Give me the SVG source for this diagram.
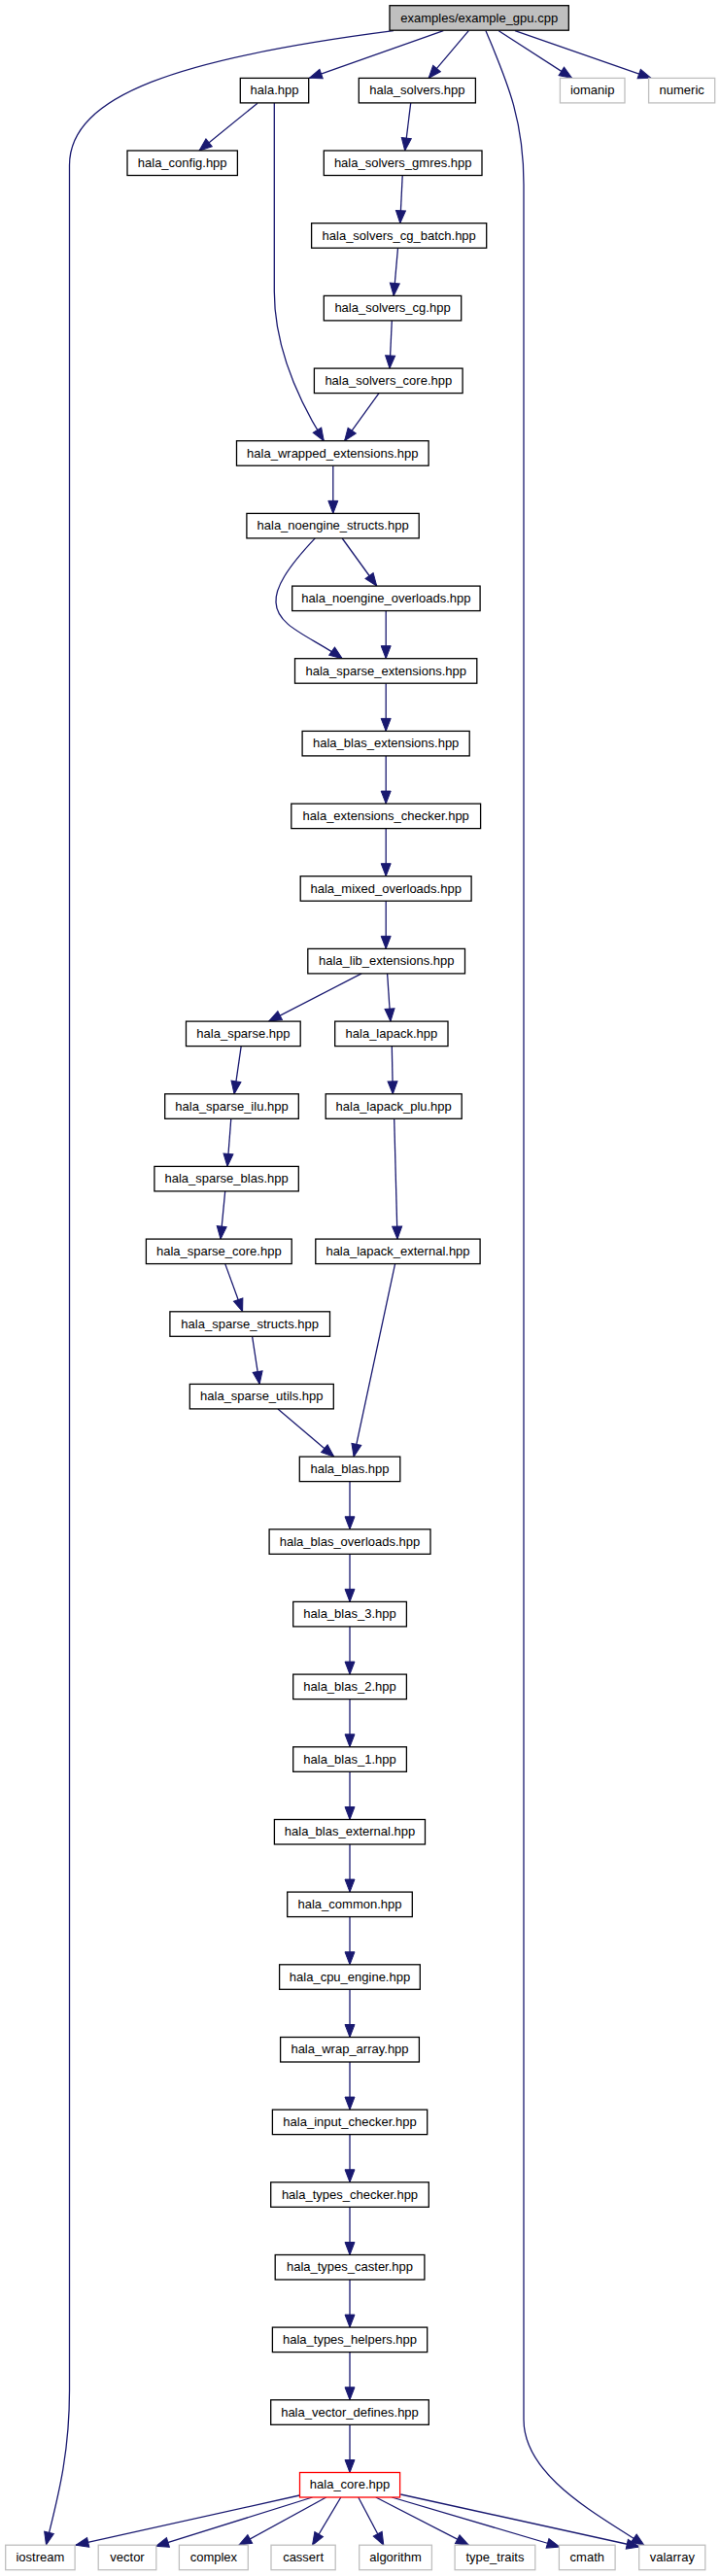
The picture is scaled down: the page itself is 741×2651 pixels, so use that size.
<svg xmlns="http://www.w3.org/2000/svg" width="741" height="2651" viewBox="0 0 741 2651">
<style>
rect{fill:#fff;stroke:#000;stroke-width:1.3}
.x rect{stroke:#bfbfbf}
.r rect{stroke:#ff0000}
.g rect{fill:#bfbfbf}
text{font-family:"Liberation Sans",Arial,Helvetica,sans-serif;font-size:13px;text-anchor:middle;fill:#000}
#edges path{fill:none;stroke:#191970;stroke-width:1.3;marker-end:url(#a)}
</style>
<defs>
<marker id="a" markerUnits="userSpaceOnUse" markerWidth="13" markerHeight="10" refX="13" refY="5" orient="auto" viewBox="0 0 13 10" overflow="visible">
<path d="M0,0L13,5L0,10z" fill="#191970" stroke="#191970" stroke-width="1"/>
</marker>
</defs>
<rect x="0" y="0" width="741" height="2651" style="fill:#fff;stroke:none"/>
<g id="edges">
<path d="M456.3,31.7L318.3,80.4"/>
<path d="M482.3,31.7L441.1,80.4"/>
<path d="M405,31.7C185,60 71.5,98 71.5,170L71.5,2460C71.5,2530 58,2575 47.5,2619"/>
<path d="M500,31.7C520,80 539,120 539,190L539,2490C539,2550 620,2590 663,2619.5"/>
<path d="M513.3,31.7L588.7,80.4"/>
<path d="M530,31.7L670,80.4"/>
<path d="M265,106.2L205,155"/>
<path d="M282.3,106L282.3,300C282.3,350 300,400 333.3,453.7"/>
<path d="M422.7,106L416.7,155"/>
<path d="M414.2,180.7L411.8,229.7"/>
<path d="M409.5,255.3L405.2,304.4"/>
<path d="M403.3,330L401,379"/>
<path d="M390,404.6L354.6,453.7"/>
<path d="M342.8,479.3L342.8,528.4"/>
<path d="M352.2,554L387.7,603"/>
<path d="M324.3,553.9C295,585 283,605 284,620C285,645 320,655 352.2,677.7"/>
<path d="M397.2,628.6L397.2,677.7"/>
<path d="M397.2,703.2L397.2,752.4"/>
<path d="M397.2,777.9L397.2,827.1"/>
<path d="M397.2,852.6L397.2,901.7"/>
<path d="M397.2,927.2L397.2,976.4"/>
<path d="M372.1,1001.9L276.6,1051.1"/>
<path d="M398.6,1001.9L401.9,1051.1"/>
<path d="M248.2,1076.6L241.1,1125.8"/>
<path d="M403.3,1076.6L404.3,1125.8"/>
<path d="M237.8,1151.3L234,1200.4"/>
<path d="M231.7,1225.9L227,1275.1"/>
<path d="M405.7,1151.3L409,1275.1"/>
<path d="M231.7,1300.6L249.6,1349.8"/>
<path d="M259.6,1375.3L267.1,1424.4"/>
<path d="M286,1449.9L343.7,1499.1"/>
<path d="M406.6,1300.6L364.1,1499.1"/>
<path d="M360,1524.6L360,1573.8"/>
<path d="M360,1599.3L360,1648.4"/>
<path d="M360,1673.9L360,1723.1"/>
<path d="M360,1748.6L360,1797.8"/>
<path d="M360,1823.3L360,1872.5"/>
<path d="M360,1898L360,1947.1"/>
<path d="M360,1972.6L360,2021.8"/>
<path d="M360,2047.3L360,2096.5"/>
<path d="M360,2122L360,2171.1"/>
<path d="M360,2196.6L360,2245.8"/>
<path d="M360,2271.3L360,2320.5"/>
<path d="M360,2346L360,2395.1"/>
<path d="M360,2420.6L360,2469.8"/>
<path d="M360,2495.3L360,2544.5"/>
<path d="M308.3,2568L78,2619.2"/>
<path d="M321.5,2570L160.5,2620.3"/>
<path d="M335.7,2570L245.9,2619.2"/>
<path d="M350.8,2570L321.5,2619.2"/>
<path d="M368.8,2570L394.8,2619.2"/>
<path d="M386.8,2570L482.3,2619.2"/>
<path d="M403.3,2570L576,2621"/>
<path d="M412.3,2567L658,2621"/>
</g>
<g id="n_example_gpu" class="g"><rect x="401" y="5.7" width="184.3" height="25.5"/><text x="493.2" y="22.6">examples/example_gpu.cpp</text></g>
<g id="n_hala"><rect x="247.3" y="80.4" width="70.4" height="25.5"/><text x="282.5" y="97.3">hala.hpp</text></g>
<g id="n_hala_solvers"><rect x="369.3" y="80.4" width="120.1" height="25.5"/><text x="429.4" y="97.3">hala_solvers.hpp</text></g>
<g id="n_iomanip" class="x"><rect x="576.4" y="80.4" width="66.6" height="25.5"/><text x="609.7" y="97.3">iomanip</text></g>
<g id="n_numeric" class="x"><rect x="667.6" y="80.4" width="68.1" height="25.5"/><text x="701.7" y="97.3">numeric</text></g>
<g id="n_hala_config"><rect x="131" y="155" width="113.4" height="25.5"/><text x="187.7" y="171.9">hala_config.hpp</text></g>
<g id="n_gmres"><rect x="333.3" y="155" width="162.7" height="25.5"/><text x="414.7" y="171.9">hala_solvers_gmres.hpp</text></g>
<g id="n_cg_batch"><rect x="320.6" y="229.7" width="180.1" height="25.5"/><text x="410.7" y="246.6">hala_solvers_cg_batch.hpp</text></g>
<g id="n_cg"><rect x="333.3" y="304.4" width="141.4" height="25.5"/><text x="404" y="321.3">hala_solvers_cg.hpp</text></g>
<g id="n_solvers_core"><rect x="323.4" y="379.1" width="152.7" height="25.5"/><text x="399.8" y="396">hala_solvers_core.hpp</text></g>
<g id="n_wrapped"><rect x="243.5" y="453.7" width="197.6" height="25.5"/><text x="342.3" y="470.6">hala_wrapped_extensions.hpp</text></g>
<g id="n_noengine_structs"><rect x="253.9" y="528.4" width="177.3" height="25.5"/><text x="342.6" y="545.3">hala_noengine_structs.hpp</text></g>
<g id="n_noengine_overloads"><rect x="300.7" y="603.1" width="193.4" height="25.5"/><text x="397.4" y="620">hala_noengine_overloads.hpp</text></g>
<g id="n_sparse_extensions"><rect x="303.5" y="677.7" width="187.3" height="25.5"/><text x="397.2" y="694.6">hala_sparse_extensions.hpp</text></g>
<g id="n_blas_extensions"><rect x="311.1" y="752.4" width="172.1" height="25.5"/><text x="397.2" y="769.3">hala_blas_extensions.hpp</text></g>
<g id="n_extensions_checker"><rect x="299.8" y="827.1" width="194.8" height="25.5"/><text x="397.2" y="844">hala_extensions_checker.hpp</text></g>
<g id="n_mixed_overloads"><rect x="309.2" y="901.7" width="175.9" height="25.5"/><text x="397.2" y="918.6">hala_mixed_overloads.hpp</text></g>
<g id="n_lib_extensions"><rect x="316.8" y="976.4" width="161.7" height="25.5"/><text x="397.7" y="993.3">hala_lib_extensions.hpp</text></g>
<g id="n_sparse"><rect x="191.5" y="1051.1" width="117.7" height="25.5"/><text x="250.4" y="1068">hala_sparse.hpp</text></g>
<g id="n_lapack"><rect x="344.7" y="1051.1" width="116.3" height="25.5"/><text x="402.9" y="1068">hala_lapack.hpp</text></g>
<g id="n_sparse_ilu"><rect x="169.7" y="1125.8" width="137.6" height="25.5"/><text x="238.5" y="1142.7">hala_sparse_ilu.hpp</text></g>
<g id="n_lapack_plu"><rect x="335.2" y="1125.8" width="140" height="25.5"/><text x="405.2" y="1142.7">hala_lapack_plu.hpp</text></g>
<g id="n_sparse_blas"><rect x="158.9" y="1200.4" width="148.4" height="25.5"/><text x="233.1" y="1217.3">hala_sparse_blas.hpp</text></g>
<g id="n_sparse_core"><rect x="150.4" y="1275.1" width="149.8" height="25.5"/><text x="225.3" y="1292">hala_sparse_core.hpp</text></g>
<g id="n_lapack_external"><rect x="324.8" y="1275.1" width="169.3" height="25.5"/><text x="409.5" y="1292">hala_lapack_external.hpp</text></g>
<g id="n_sparse_structs"><rect x="174.9" y="1349.8" width="164.6" height="25.5"/><text x="257.2" y="1366.7">hala_sparse_structs.hpp</text></g>
<g id="n_sparse_utils"><rect x="195.3" y="1424.4" width="148" height="25.5"/><text x="269.3" y="1441.3">hala_sparse_utils.hpp</text></g>
<g id="n_blas"><rect x="308.3" y="1499.1" width="103.5" height="25.5"/><text x="360" y="1516">hala_blas.hpp</text></g>
<g id="n_blas_overloads"><rect x="277.1" y="1573.8" width="165.9" height="25.5"/><text x="360" y="1590.7">hala_blas_overloads.hpp</text></g>
<g id="n_blas_3"><rect x="301.7" y="1648.4" width="116.7" height="25.5"/><text x="360" y="1665.3">hala_blas_3.hpp</text></g>
<g id="n_blas_2"><rect x="301.7" y="1723.1" width="116.7" height="25.5"/><text x="360" y="1740">hala_blas_2.hpp</text></g>
<g id="n_blas_1"><rect x="301.7" y="1797.8" width="116.7" height="25.5"/><text x="360" y="1814.7">hala_blas_1.hpp</text></g>
<g id="n_blas_external"><rect x="282.4" y="1872.5" width="155.1" height="25.5"/><text x="360" y="1889.4">hala_blas_external.hpp</text></g>
<g id="n_common"><rect x="295.7" y="1947.1" width="128.6" height="25.5"/><text x="360" y="1964">hala_common.hpp</text></g>
<g id="n_cpu_engine"><rect x="287.6" y="2021.8" width="144.7" height="25.5"/><text x="360" y="2038.7">hala_cpu_engine.hpp</text></g>
<g id="n_wrap_array"><rect x="288.6" y="2096.5" width="142.8" height="25.5"/><text x="360" y="2113.4">hala_wrap_array.hpp</text></g>
<g id="n_input_checker"><rect x="280.4" y="2171.1" width="159.3" height="25.5"/><text x="360" y="2188">hala_input_checker.hpp</text></g>
<g id="n_types_checker"><rect x="278.7" y="2245.8" width="162.6" height="25.5"/><text x="360" y="2262.7">hala_types_checker.hpp</text></g>
<g id="n_types_caster"><rect x="283.2" y="2320.5" width="153.7" height="25.5"/><text x="360" y="2337.4">hala_types_caster.hpp</text></g>
<g id="n_types_helpers"><rect x="280.4" y="2395.1" width="159.3" height="25.5"/><text x="360" y="2412">hala_types_helpers.hpp</text></g>
<g id="n_vector_defines"><rect x="278.7" y="2469.8" width="162.6" height="25.5"/><text x="360" y="2486.7">hala_vector_defines.hpp</text></g>
<g id="n_hala_core" class="r"><rect x="308.5" y="2544.5" width="103.1" height="25.5"/><text x="360" y="2561.4">hala_core.hpp</text></g>
<g id="n_iostream" class="x"><rect x="5.7" y="2619.2" width="71.4" height="25.5"/><text x="41.4" y="2636.1">iostream</text></g>
<g id="n_vector" class="x"><rect x="101.2" y="2619.2" width="59.6" height="25.5"/><text x="131" y="2636.1">vector</text></g>
<g id="n_complex" class="x"><rect x="184.4" y="2619.2" width="70.9" height="25.5"/><text x="219.9" y="2636.1">complex</text></g>
<g id="n_cassert" class="x"><rect x="279" y="2619.2" width="66.2" height="25.5"/><text x="312.1" y="2636.1">cassert</text></g>
<g id="n_algorithm" class="x"><rect x="369.7" y="2619.2" width="74.7" height="25.5"/><text x="407" y="2636.1">algorithm</text></g>
<g id="n_type_traits" class="x"><rect x="468.1" y="2619.2" width="82.7" height="25.5"/><text x="509.5" y="2636.1">type_traits</text></g>
<g id="n_cmath" class="x"><rect x="575.4" y="2619.2" width="57.7" height="25.5"/><text x="604.3" y="2636.1">cmath</text></g>
<g id="n_valarray" class="x"><rect x="657.7" y="2619.2" width="68.1" height="25.5"/><text x="691.8" y="2636.1">valarray</text></g>
</svg>
